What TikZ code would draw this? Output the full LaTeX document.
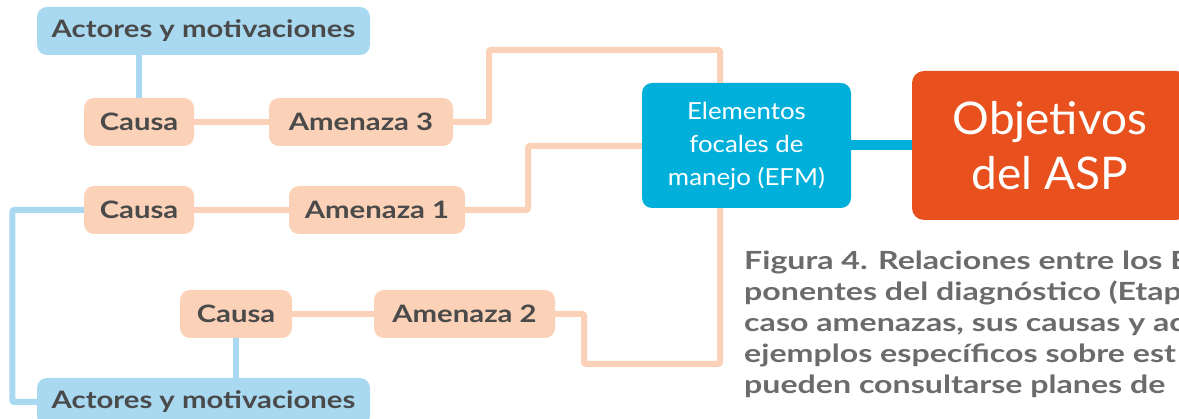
\documentclass[tikz,border=0pt]{standalone}
\usepackage{fontspec}
\setmainfont{Lato}
\newfontfamily\boxfont{Lato}[FakeStretch=1.22]
\newfontfamily\capfont{Lato}[FakeStretch=1.285]
\newfontfamily\efmfont{Lato}[FakeStretch=1.1]
\newfontfamily\objfont{Lato}[FakeStretch=1.02]
\definecolor{peach}{HTML}{FBD1B7}
\definecolor{lblue}{HTML}{A9D9F1}
\definecolor{cyanb}{HTML}{00B0DB}
\definecolor{orng}{HTML}{E8501D}
\definecolor{dtext}{HTML}{4A4A4A}
\definecolor{ctext}{HTML}{6B6B6B}
\begin{document}
\begin{tikzpicture}[x=1pt,y=-1pt,
  box/.style={rounded corners=10pt, inner sep=0pt, align=center,
    font=\boxfont\fontsize{24}{28}\selectfont\bfseries, text=dtext, minimum height=48pt},
  peachbox/.style={box, fill=peach},
  bluebox/.style={box, fill=lblue},
  peachline/.style={draw=peach, line width=6pt, rounded corners=2pt},
  blueline/.style={draw=lblue, line width=6pt, rounded corners=2pt},
]
\useasboundingbox (0,0) rectangle (1179,419);
\clip (0,0) rectangle (1179,419);

% nodes
\node[bluebox, minimum width=333pt] (acttop) at (203.5,31) {Actores y motivaciones};
\node[peachbox, minimum width=110pt] (causa3) at (139,122) {Causa};
\node[peachbox, minimum width=184pt] (amen3) at (361,122) {Amenaza 3};
\node[peachbox, minimum width=110pt] (causa1) at (139,210) {Causa};
\node[peachbox, minimum width=176pt] (amen1) at (377,210) {Amenaza 1};
\node[peachbox, minimum width=112pt] (causa2) at (236,314) {Causa};
\node[peachbox, minimum width=181pt] (amen2) at (464.5,314) {Amenaza 2};
\node[bluebox, minimum width=333pt] (actbot) at (203.5,402) {Actores y motivaciones};

\node[rounded corners=10pt, fill=cyanb, text=white, align=center,
  minimum width=209pt, minimum height=125pt, inner sep=0pt,
  font=\efmfont\fontsize{23.5}{33}\selectfont] (efm) at (746.5,145.5)
  {Elementos\\focales de\\manejo (EFM)};
\node[rounded corners=12pt, fill=orng, text=white, align=center,
  minimum width=276pt, minimum height=149pt, inner sep=0pt,
  font=\objfont\fontsize{45}{55}\selectfont] (obj) at (1050,145.5)
  {Objetivos\\del ASP};

% connectors
\coordinate (t3) at (489,50);
\coordinate (v) at (720,50);
\coordinate (t1) at (528,146);
\coordinate (t2) at (584,364);

\draw[blueline] (causa3.north) -- (causa3.north |- acttop.south);
\draw[peachline] (causa3.east) -- (amen3.west);
\draw[peachline] (amen3.east) -| (t3) -- (v) -- (v |- efm.north);
\draw[peachline] (causa1.east) -- (amen1.west);
\draw[peachline] (amen1.east) -| (t1) -- (t1 -| efm.west);
\draw[peachline] (causa2.east) -- (amen2.west);
\draw[peachline] (amen2.east) -| (t2) -| (v |- efm.south);
\draw[blueline] (causa1.west) -- ++(-71.5,0) |- (actbot.west);
\draw[blueline] (causa2.south) -- (causa2.south |- actbot.north);
\draw[draw=cyanb, line width=10pt] (efm.east) -- (obj.west);

% caption
\node[anchor=north west, inner sep=0pt, align=left, text=ctext,
  font=\capfont\fontsize{25}{31}\selectfont\bfseries] (cap) at (744,251)
  {Figura 4. Relaciones entre los E\\
   ponentes del diagnóstico (Etapa\\
   caso amenazas, sus causas y ac\\
   ejemplos específicos sobre est\\
   pueden consultarse planes de};
\end{tikzpicture}
\end{document}
